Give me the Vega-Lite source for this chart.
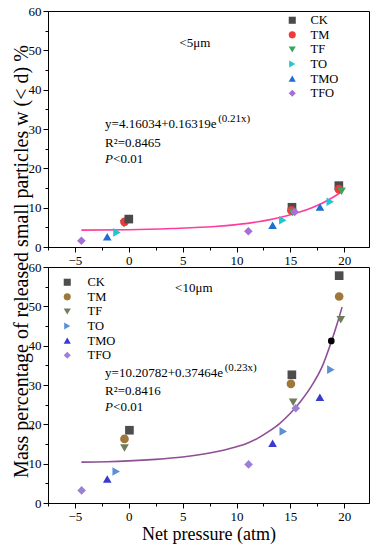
{
  "$schema": "https://vega.github.io/schema/vega-lite/v6.json",
  "padding": {"left": 10, "top": 4, "right": 6, "bottom": 7},
  "background": "white",
  "spacing": 20,
  "bounds": "flush",
  "config": {
    "font": "Liberation Serif",
    "view": {"stroke": "black", "strokeWidth": 1},
    "axis": {
      "domainColor": "black", "tickColor": "black", "labelColor": "black", "titleColor": "black",
      "labelFont": "Liberation Serif", "titleFont": "Liberation Serif", "labelFontSize": 13,
      "grid": false, "titleFontWeight": "normal", "labelPadding": 2,
      "labelFlush": false, "labelOverlap": false
    },
    "legend": {"labelFont": "Liberation Serif", "labelFontSize": 12.5, "labelColor": "black"}
  },
  "datasets": {
    "top_pts": [
      {"x": -4.4, "y": 1.6, "s": "TFO"},
      {"x": -2.0, "y": 2.6, "s": "TMO"},
      {"x": -1.1, "y": 3.7, "s": "TO"},
      {"x": -0.45, "y": 5.9, "s": "TF"},
      {"x": -0.4, "y": 6.4, "s": "TM"},
      {"x": 0.0, "y": 7.1, "s": "CK"},
      {"x": 11.1, "y": 4.0, "s": "TFO"},
      {"x": 13.35, "y": 5.5, "s": "TMO"},
      {"x": 14.3, "y": 6.8, "s": "TO"},
      {"x": 15.15, "y": 10.1, "s": "CK"},
      {"x": 15.1, "y": 9.3, "s": "TM"},
      {"x": 15.2, "y": 8.8, "s": "TF"},
      {"x": 15.4, "y": 8.9, "s": "TFO"},
      {"x": 17.75, "y": 10.2, "s": "TMO"},
      {"x": 18.7, "y": 11.5, "s": "TO"},
      {"x": 19.5, "y": 15.6, "s": "CK"},
      {"x": 19.5, "y": 14.7, "s": "TM"},
      {"x": 19.75, "y": 14.2, "s": "TF"}
    ],
    "bot_pts": [
      {"x": 0.06, "y": 18.5, "s": "CK"},
      {"x": -0.4, "y": 16.3, "s": "TM"},
      {"x": -0.4, "y": 14.0, "s": "TF"},
      {"x": -1.17, "y": 8.0, "s": "TO"},
      {"x": -2.0, "y": 6.1, "s": "TMO"},
      {"x": -4.38, "y": 3.2, "s": "TFO"},
      {"x": 11.12, "y": 9.8, "s": "TFO"},
      {"x": 13.35, "y": 15.2, "s": "TMO"},
      {"x": 14.34, "y": 18.2, "s": "TO"},
      {"x": 15.5, "y": 24.1, "s": "TFO"},
      {"x": 15.26, "y": 25.6, "s": "TF"},
      {"x": 15.05, "y": 30.3, "s": "TM"},
      {"x": 15.14, "y": 32.6, "s": "CK"},
      {"x": 17.74, "y": 26.9, "s": "TMO"},
      {"x": 18.76, "y": 33.9, "s": "TO"},
      {"x": 19.53, "y": 57.8, "s": "CK"},
      {"x": 19.53, "y": 52.5, "s": "TM"},
      {"x": 19.68, "y": 46.6, "s": "TF"}
    ],
    "bot_extra": [{"x": 18.8, "y": 41.2}],
    "top_fit": [
      {"x": -4.4, "y": 4.3}, {"x": 0, "y": 4.4}, {"x": 4, "y": 4.7}, {"x": 8, "y": 5.2},
      {"x": 10, "y": 5.7}, {"x": 12, "y": 6.4}, {"x": 13, "y": 6.9}, {"x": 14, "y": 7.5},
      {"x": 15, "y": 8.2}, {"x": 16, "y": 9.0}, {"x": 17, "y": 10.0}, {"x": 18, "y": 11.2},
      {"x": 19, "y": 12.7}, {"x": 19.8, "y": 14.1}
    ],
    "bot_fit": [
      {"x": -4.4, "y": 10.4}, {"x": -2, "y": 10.5}, {"x": 0, "y": 10.7}, {"x": 2.5, "y": 11.1},
      {"x": 5, "y": 11.7}, {"x": 7.5, "y": 12.7}, {"x": 10, "y": 14.3}, {"x": 11, "y": 15.2},
      {"x": 12, "y": 16.5}, {"x": 13, "y": 18.2}, {"x": 14, "y": 20.2}, {"x": 15, "y": 22.8},
      {"x": 16, "y": 26.0}, {"x": 17, "y": 29.9}, {"x": 18, "y": 35.0}, {"x": 18.8, "y": 41.0},
      {"x": 19.3, "y": 45.2}, {"x": 19.8, "y": 49.8}
    ],
    "top_txt": [
      {"x": 4.7, "y": 50.8, "t": "<5μm"},
      {"x": -2.2, "y": 30.3, "t": "y=4.16034+0.16319e"},
      {"x": -2.2, "y": 25.5, "t": "R²=0.8465"},
      {"x": -1.45, "y": 21.4, "t": "<0.01"}
    ],
    "top_sup": [{"x": 8.3, "y": 31.9, "t": "(0.21x)"}],
    "top_p": [{"x": -2.2, "y": 21.4, "t": "P"}],
    "bot_txt": [
      {"x": 4.3, "y": 53.6, "t": "<10μm"},
      {"x": -2.2, "y": 32.0, "t": "y=10.20782+0.37464e"},
      {"x": -2.2, "y": 27.5, "t": "R²=0.8416"},
      {"x": -1.45, "y": 23.3, "t": "<0.01"}
    ],
    "bot_sup": [{"x": 8.9, "y": 33.6, "t": "(0.23x)"}],
    "bot_p": [{"x": -2.2, "y": 23.3, "t": "P"}]
  },
  "vconcat": [
    {
      "width": 321,
      "height": 236,
      "encoding": {
        "x": {"field": "x", "type": "quantitative",
          "scale": {"domain": [-7.5, 22.3], "nice": false, "zero": false},
          "axis": {"title": null, "labelFont": "Liberation Serif",
            "values": [-7.5, -5, -2.5, 0, 2.5, 5, 7.5, 10, 12.5, 15, 17.5, 20],
            "labelExpr": "datum.value % 5 === 0 ? datum.label : ''",
            "tickSize": {"condition": {"test": "datum.value % 5 !== 0", "value": 3}, "value": 5}}},
        "y": {"field": "y", "type": "quantitative",
          "scale": {"domain": [0, 60], "nice": false, "zero": false},
          "axis": {"title": "Mass percentage of released small particles w (< d) %",
            "labelFont": "Liberation Serif", "titleFont": "Liberation Serif", "titleFontWeight": "normal",
            "titleFontSize": 20, "titleX": -20.5, "titleY": 250, "titleAngle": -90,
            "titleAlign": "center", "titleBaseline": "alphabetic",
            "values": [0, 5, 10, 15, 20, 25, 30, 35, 40, 45, 50, 55, 60],
            "labelExpr": "datum.value % 10 === 0 ? datum.label : ''",
            "tickSize": {"condition": {"test": "datum.value % 10 !== 0", "value": 3}, "value": 5}}}
      },
      "layer": [
        {
          "data": {"name": "top_fit"},
          "mark": {"type": "line", "color": "#ff3c9e", "strokeWidth": 1.6, "interpolate": "monotone"}
        },
        {
          "data": {"name": "top_pts"},
          "mark": {"type": "point", "filled": true, "opacity": 1, "size": 75},
          "encoding": {
            "color": {"field": "s", "type": "nominal",
              "scale": {"domain": ["CK", "TM", "TF", "TO", "TMO", "TFO"],
                "range": ["#4a4a4a", "#ee3a3a", "#3aa55a", "#1ec8d0", "#1f6fd0", "#a66fd6"]},
              "legend": {"orient": "none", "legendX": 238, "legendY": 3, "title": null, "symbolSize": 50,
                "rowPadding": 1.6, "labelOffset": 12, "padding": 0, "labelFontSize": 12.5, "labelFont": "Liberation Serif"}},
            "shape": {"field": "s", "type": "nominal",
              "scale": {"domain": ["CK", "TM", "TF", "TO", "TMO", "TFO"],
                "range": ["square", "circle", "triangle-down", "triangle-right", "triangle-up", "diamond"]},
              "legend": {"orient": "none", "legendX": 238, "legendY": 3, "title": null, "symbolSize": 50,
                "rowPadding": 1.6, "labelOffset": 12, "padding": 0, "labelFontSize": 12.5, "labelFont": "Liberation Serif"}}
          }
        },
        {
          "data": {"name": "top_txt"},
          "mark": {"type": "text", "align": "left", "baseline": "alphabetic", "fontSize": 13, "font": "Liberation Serif", "color": "black"},
          "encoding": {"text": {"field": "t"}}
        },
        {
          "data": {"name": "top_sup"},
          "mark": {"type": "text", "align": "left", "baseline": "alphabetic", "fontSize": 11, "font": "Liberation Serif", "color": "black"},
          "encoding": {"text": {"field": "t"}}
        },
        {
          "data": {"name": "top_p"},
          "mark": {"type": "text", "align": "left", "baseline": "alphabetic", "fontSize": 13, "font": "Liberation Serif", "fontStyle": "italic", "color": "black"},
          "encoding": {"text": {"field": "t"}}
        }
      ]
    },
    {
      "width": 321,
      "height": 236,
      "encoding": {
        "x": {"field": "x", "type": "quantitative",
          "scale": {"domain": [-7.5, 22.3], "nice": false, "zero": false},
          "axis": {"title": "Net pressure (atm)", "titleFontSize": 18, "titleY": 36, "titleBaseline": "alphabetic",
            "labelFont": "Liberation Serif", "titleFont": "Liberation Serif", "titleFontWeight": "normal",
            "values": [-7.5, -5, -2.5, 0, 2.5, 5, 7.5, 10, 12.5, 15, 17.5, 20],
            "labelExpr": "datum.value % 5 === 0 ? datum.label : ''",
            "tickSize": {"condition": {"test": "datum.value % 5 !== 0", "value": 3}, "value": 5}}},
        "y": {"field": "y", "type": "quantitative",
          "scale": {"domain": [0, 60], "nice": false, "zero": false},
          "axis": {"title": null, "labelFont": "Liberation Serif",
            "values": [0, 5, 10, 15, 20, 25, 30, 35, 40, 45, 50, 55, 60],
            "labelExpr": "datum.value % 10 === 0 ? datum.label : ''",
            "tickSize": {"condition": {"test": "datum.value % 10 !== 0", "value": 3}, "value": 5}}}
      },
      "layer": [
        {
          "data": {"name": "bot_fit"},
          "mark": {"type": "line", "color": "#8e4f95", "strokeWidth": 1.6, "interpolate": "monotone"}
        },
        {
          "data": {"name": "bot_pts"},
          "mark": {"type": "point", "filled": true, "opacity": 1, "size": 75},
          "encoding": {
            "color": {"field": "s", "type": "nominal",
              "scale": {"domain": ["CK", "TM", "TF", "TO", "TMO", "TFO"],
                "range": ["#4d4d4d", "#a0773a", "#6e7d5a", "#5b8fd6", "#3a3ad0", "#9b80d8"]},
              "legend": {"orient": "none", "legendX": 13, "legendY": 9, "title": null, "symbolSize": 50,
                "rowPadding": 1.6, "labelOffset": 14, "padding": 0, "labelFontSize": 12.5, "labelFont": "Liberation Serif"}},
            "shape": {"field": "s", "type": "nominal",
              "scale": {"domain": ["CK", "TM", "TF", "TO", "TMO", "TFO"],
                "range": ["square", "circle", "triangle-down", "triangle-right", "triangle-up", "diamond"]},
              "legend": {"orient": "none", "legendX": 13, "legendY": 9, "title": null, "symbolSize": 50,
                "rowPadding": 1.6, "labelOffset": 14, "padding": 0, "labelFontSize": 12.5, "labelFont": "Liberation Serif"}}
          }
        },
        {
          "data": {"name": "bot_extra"},
          "mark": {"type": "point", "shape": "circle", "filled": true, "opacity": 1, "size": 45, "color": "black"}
        },
        {
          "data": {"name": "bot_txt"},
          "mark": {"type": "text", "align": "left", "baseline": "alphabetic", "fontSize": 13, "font": "Liberation Serif", "color": "black"},
          "encoding": {"text": {"field": "t"}}
        },
        {
          "data": {"name": "bot_sup"},
          "mark": {"type": "text", "align": "left", "baseline": "alphabetic", "fontSize": 11, "font": "Liberation Serif", "color": "black"},
          "encoding": {"text": {"field": "t"}}
        },
        {
          "data": {"name": "bot_p"},
          "mark": {"type": "text", "align": "left", "baseline": "alphabetic", "fontSize": 13, "font": "Liberation Serif", "fontStyle": "italic", "color": "black"},
          "encoding": {"text": {"field": "t"}}
        }
      ]
    }
  ],
  "resolve": {
    "scale": {"color": "independent", "shape": "independent"},
    "legend": {"color": "independent", "shape": "independent"}
  }
}
